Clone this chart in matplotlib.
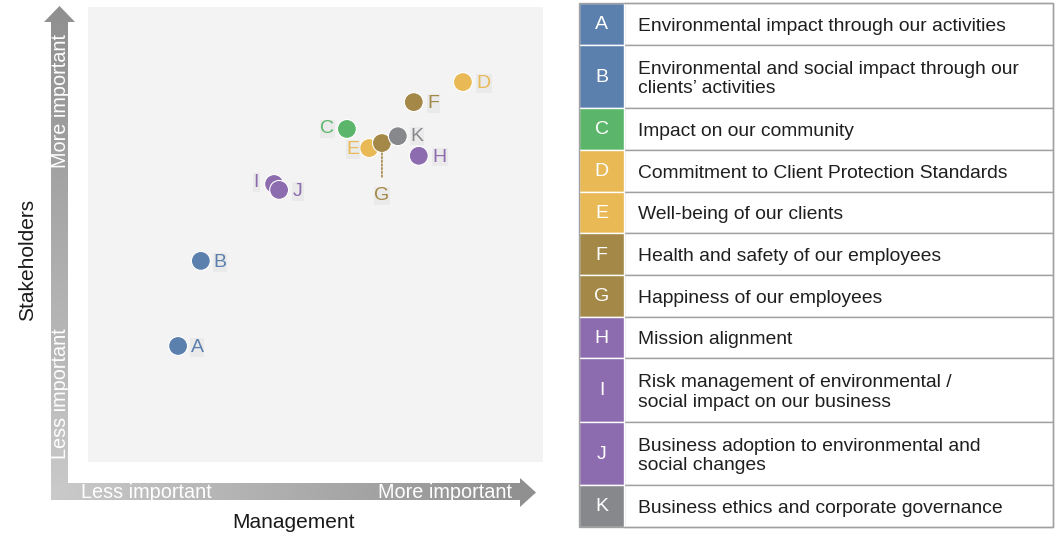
import matplotlib
matplotlib.use("Agg")
import matplotlib.pyplot as plt
import numpy as np
from matplotlib.patches import Polygon, Rectangle
from matplotlib.colors import LinearSegmentedColormap

plt.rcParams['font.family'] = ['Liberation Sans', 'DejaVu Sans']

# materiality scores (0-10 scale on both axes)
letters = ['A', 'B', 'C', 'D', 'E', 'F', 'G', 'H', 'I', 'J', 'K']
management = [1.98, 2.48, 5.69, 8.24, 6.18, 7.16, 6.46, 7.27, 4.09, 4.20, 6.81]
stakeholders = [2.55, 4.42, 7.32, 8.35, 6.90, 7.91, 7.01, 6.73, 6.11, 5.98, 7.16]
descriptions = [
    'Environmental impact through our activities',
    'Environmental and social impact through our\nclients\u2019 activities',
    'Impact on our community',
    'Commitment to Client Protection Standards',
    'Well-being of our clients',
    'Health and safety of our employees',
    'Happiness of our employees',
    'Mission alignment',
    'Risk management of environmental /\nsocial impact on our business',
    'Business adoption to environmental and\nsocial changes',
    'Business ethics and corporate governance',
]
colors = ['#5b80ae', '#5b80ae', '#5bb66b', '#e8b954', '#e8b954', '#a48848',
          '#a48848', '#8c6bae', '#8c6bae', '#8c6bae', '#87888c']

# label offsets (points) and alignment per letter
label_pos = {
    'A': (9, -1, 'left'), 'B': (9, -1, 'left'), 'C': (-9, 0, 'right'),
    'D': (10, -1, 'left'), 'E': (-7, -1, 'right'), 'F': (10, -1, 'left'),
    'H': (10, -1, 'left'), 'I': (-11, 1, 'right'), 'J': (10, -1, 'left'),
    'K': (9, 0, 'left'),
}

fig = plt.figure(figsize=(10.64, 5.5), dpi=100)

# overlay axes in pixel coordinates for arrows and table
ov = fig.add_axes([0, 0, 1, 1])
ov.set_xlim(0, 1064)
ov.set_ylim(550, 0)
ov.axis('off')

# vertical arrow with gradient (dark at top)
vpoly = Polygon([(51, 500), (51, 22), (44, 22), (59.5, 6), (75, 22), (68, 22), (68, 500)],
                closed=True, facecolor='none', edgecolor='none')
ov.add_patch(vpoly)
grad = np.linspace(0, 1, 256).reshape(-1, 1)
im = ov.imshow(grad, extent=(40, 80, 500, 5),
               cmap=LinearSegmentedColormap.from_list('g', ['#8f8f8f', '#cacaca']),
               aspect='auto', zorder=1)
im.set_clip_path(vpoly)

# horizontal arrow with gradient (dark at right)
hpoly = Polygon([(51, 483), (520, 483), (520, 478), (536, 492.5), (520, 507), (520, 500), (51, 500)],
                closed=True, facecolor='none', edgecolor='none')
ov.add_patch(hpoly)
im2 = ov.imshow(grad.T, extent=(51, 536, 510, 475),
                cmap=LinearSegmentedColormap.from_list('h', ['#cacaca', '#8f8f8f']),
                aspect='auto', zorder=1)
im2.set_clip_path(hpoly)

afs = 14.3
ov.text(60, 101, 'More important', rotation=90, color='white', fontsize=afs, ha='center', va='center', zorder=3)
ov.text(60, 394, 'Less important', rotation=90, color='white', fontsize=afs, ha='center', va='center', zorder=3)
ov.text(146, 492, 'Less important', color='white', fontsize=afs, ha='center', va='center', zorder=3)
ov.text(445, 492, 'More important', color='white', fontsize=afs, ha='center', va='center', zorder=3)
ov.text(28, 260, 'Stakeholders', rotation=90, color='#1a1a1a', fontsize=15, ha='center', va='center')
ov.text(294, 522, 'Management', color='#1a1a1a', fontsize=15, ha='center', va='center')

# legend table
tx0, tx1, tcol = 579, 1053, 624
y = 3
for letter, desc, c in zip(letters, descriptions, colors):
    nlines = desc.count('\n') + 1
    h = 41.7 + 21.7 * (nlines - 1)
    ov.add_patch(Rectangle((tx0, y), tcol - tx0, h, facecolor=c, edgecolor='white', lw=1, zorder=2))
    ov.add_patch(Rectangle((tcol, y), tx1 - tcol, h, facecolor='white', edgecolor='#a0a0a0', lw=1, zorder=1))
    ov.text((tx0 + tcol) / 2, y + h / 2 + 1, letter, color='white', fontsize=14, ha='center', va='center', zorder=3)
    ov.text(638, y + h / 2 + 2.5, desc, color='#1f1f1f', fontsize=13.9, ha='left', va='center',
            linespacing=1.2, zorder=3)
    y += h
ov.add_patch(Rectangle((tx0, 3), tx1 - tx0, y - 3, facecolor='none', edgecolor='#a0a0a0', lw=1, zorder=4))

# scatter plot
ax = fig.add_axes([88 / 1064, (550 - 462) / 550, 455 / 1064, 455 / 550])
ax.set_facecolor('#f3f3f3')
ax.set_xlim(0, 10)
ax.set_ylim(0, 10)
for s in ax.spines.values():
    s.set_visible(False)
ax.set_xticks([])
ax.set_yticks([])

ax.scatter(management, stakeholders, s=185, c=colors, edgecolors='white', linewidths=0.8, zorder=3)

box = dict(facecolor='#eaeaea', edgecolor='none', pad=0.5)
lfs = 14
for letter, x, yv, c in zip(letters, management, stakeholders, colors):
    if letter == 'G':
        ax.annotate(letter, xy=(x, yv), xytext=(0, -38), textcoords='offset points',
                    ha='center', va='center', color=c, fontsize=lfs, bbox=box,
                    arrowprops=dict(arrowstyle='-', linestyle=(0, (1, 1.2)), color=c, lw=1.2,
                                    shrinkA=7, shrinkB=4))
        continue
    dx, dy, ha = label_pos[letter]
    ax.annotate(letter, xy=(x, yv), xytext=(dx, dy), textcoords='offset points',
                ha=ha, va='center', color=c, fontsize=lfs, bbox=box, zorder=4)

fig.savefig('out.png', dpi=100)
